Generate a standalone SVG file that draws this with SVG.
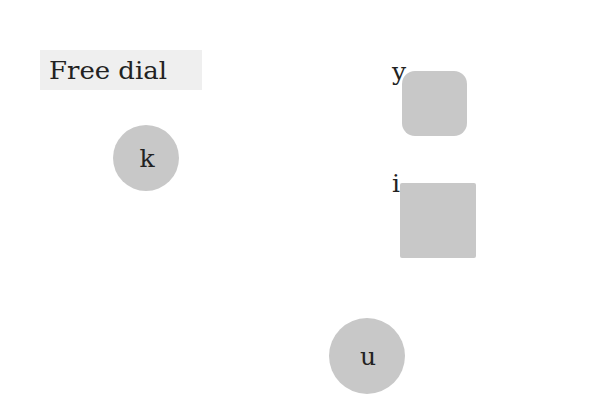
<svg xmlns="http://www.w3.org/2000/svg" width="600" height="400" viewBox="0 0 600 400">
<style>
text{font-family:"DejaVu Serif","Liberation Serif",serif;font-size:25px;fill:#222}
.n{fill:#c8c8c8}
.c{text-anchor:middle}
</style>
<rect x="0" y="0" width="600" height="400" fill="#fff"/>
<g id="title">
<rect x="40" y="50" width="162" height="40" fill="#efefef"/>
<text x="49" y="79" textLength="118" lengthAdjust="spacingAndGlyphs">Free dial</text>
</g>
<g id="connectors"></g>
<g id="node-k">
<circle class="n" cx="146" cy="158" r="33"/>
<text class="c" x="147" y="167">k</text>
</g>
<g id="node-y">
<rect class="n" x="402" y="71" width="65" height="65" rx="13"/>
<text x="392" y="80">y</text>
</g>
<g id="node-i">
<rect class="n" x="400" y="183" width="76" height="75" rx="2"/>
<text x="392" y="192">i</text>
</g>
<g id="node-u">
<circle class="n" cx="367" cy="356" r="38"/>
<text class="c" x="368" y="365">u</text>
</g>
</svg>
